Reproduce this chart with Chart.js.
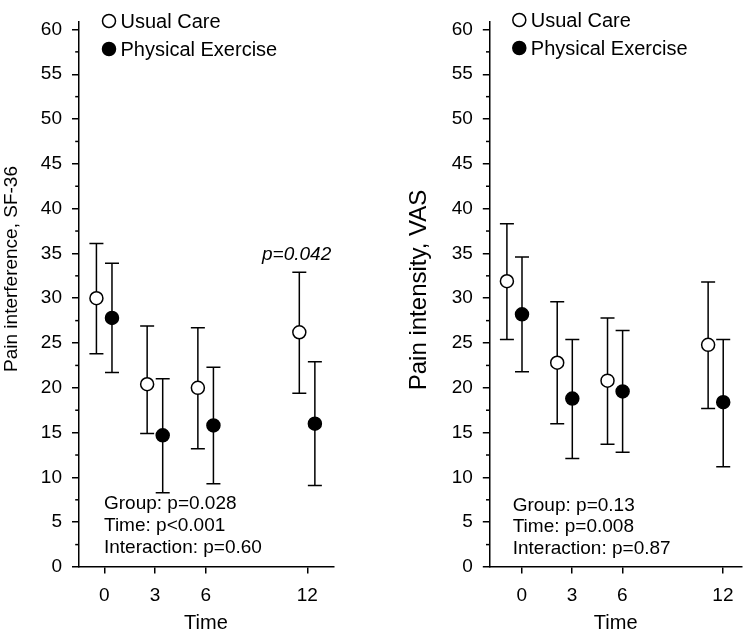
<!DOCTYPE html>
<html lang="en">
<head>
    <meta charset="UTF-8">
    <title>Pain interference and pain intensity over time</title>
    <script src="https://cdn.jsdelivr.net/npm/chart.js"></script>
    <style>
        body {
            margin: 0;
            background-color: #ffffff;
        }

        .wrap {
            display: flex;
            width: 750px;
            height: 633px;
        }

        canvas {
            display: block;
        }
    </style>
</head>
<body>

    <div class="wrap">
        <canvas id="interferenceChart" width="375" height="633"></canvas>
        <canvas id="intensityChart" width="375" height="633"></canvas>
    </div>

    <script>
        // Months of follow-up
        const times = [0, 3, 6, 12];
        const groupNames = ['Usual Care', 'Physical Exercise'];
        const yTickValues = [0, 5, 10, 15, 20, 25, 30, 35, 40, 45, 50, 55, 60];

        // Pain interference, SF-36 (mean and error bar ends)
        const sfUsualMean = [30.0, 20.4, 20.0, 26.2];
        const sfUsualUpper = [36.1, 26.9, 26.7, 32.9];
        const sfUsualLower = [23.8, 14.9, 13.2, 19.4];
        const sfExerciseMean = [27.8, 14.7, 15.8, 16.0];
        const sfExerciseUpper = [33.9, 21.0, 22.3, 22.9];
        const sfExerciseLower = [21.7, 8.3, 9.3, 9.1];
        const sfStats = ['Group: p=0.028', 'Time: p<0.001', 'Interaction: p=0.60'];

        // Pain intensity, VAS
        const vasUsualMean = [31.9, 22.8, 20.8, 24.8];
        const vasUsualUpper = [38.3, 29.6, 27.8, 31.8];
        const vasUsualLower = [25.4, 16.0, 13.7, 17.7];
        const vasExerciseMean = [28.2, 18.8, 19.6, 18.4];
        const vasExerciseUpper = [34.6, 25.4, 26.4, 25.4];
        const vasExerciseLower = [21.8, 12.1, 12.8, 11.2];
        const vasStats = ['Group: p=0.13', 'Time: p=0.008', 'Interaction: p=0.87'];

        const FONT = 'Arial, "Liberation Sans", sans-serif';
        Chart.defaults.font.family = FONT;
        Chart.defaults.color = '#000';

        // whiskers are drawn before the markers so open circles hide the line
        const errorBars = {
            id: 'errorBars',
            beforeDatasetsDraw(chart) {
                const { ctx, scales: { x, y } } = chart;
                ctx.save();
                ctx.strokeStyle = '#000';
                ctx.lineWidth = 1.5;
                chart.data.datasets.forEach(ds => {
                    ds.data.forEach((pt, i) => {
                        const px = x.getPixelForValue(pt.x);
                        const top = y.getPixelForValue(ds.upper[i]);
                        const bot = y.getPixelForValue(ds.lower[i]);
                        ctx.beginPath();
                        ctx.moveTo(px, top); ctx.lineTo(px, bot);
                        ctx.moveTo(px - 7, top); ctx.lineTo(px + 7, top);
                        ctx.moveTo(px - 7, bot); ctx.lineTo(px + 7, bot);
                        ctx.stroke();
                    });
                });
                ctx.restore();
            }
        };

        // minor y ticks, legend, statistics, y title and p-value note
        const panelText = {
            id: 'panelText',
            afterDraw(chart, args, o) {
                const { ctx, chartArea, scales: { x, y } } = chart;
                ctx.save();

                ctx.strokeStyle = '#000';
                ctx.lineWidth = 1.5;
                for (let v = 2.5; v < 60; v += 5) {
                    const py = y.getPixelForValue(v);
                    ctx.beginPath();
                    ctx.moveTo(chartArea.left - 3.3, py);
                    ctx.lineTo(chartArea.left, py);
                    ctx.stroke();
                }

                ctx.fillStyle = '#000';
                ctx.textBaseline = 'middle';
                ctx.textAlign = 'left';
                ctx.font = '20px ' + FONT;

                chart.data.datasets.forEach((ds, i) => {
                    const cx = chartArea.left + o.legendX;
                    const cy = o.legendY[i];
                    ctx.beginPath();
                    ctx.arc(cx, cy, 6.5, 0, Math.PI * 2);
                    ctx.fillStyle = ds.backgroundColor;
                    ctx.fill();
                    ctx.stroke();
                    ctx.fillStyle = '#000';
                    ctx.fillText(ds.label, cx + 11.5, cy + 1);
                });

                ctx.font = '19px ' + FONT;
                o.stats.forEach((s, i) => {
                    ctx.fillText(s, chartArea.left + o.statsX, o.statsY[i]);
                });

                if (o.note) {
                    ctx.font = 'italic 19px ' + FONT;
                    ctx.textAlign = 'center';
                    ctx.fillText(o.note.text, x.getPixelForValue(o.note.x), y.getPixelForValue(o.note.y));
                }

                ctx.translate(o.titleX, o.titleY);
                ctx.rotate(-Math.PI / 2);
                ctx.textAlign = 'center';
                ctx.font = o.titleSize + 'px ' + FONT;
                ctx.fillText(o.title, 0, 0);

                ctx.restore();
            }
        };

        function makeDataset(label, mean, upper, lower, offset, fill) {
            return {
                label: label,
                data: times.map((t, i) => ({ x: t + offset, y: mean[i] })),
                upper: upper,
                lower: lower,
                backgroundColor: fill,
                borderColor: '#000',
                borderWidth: 1.5,
                pointRadius: 6.5,
                pointHoverRadius: 6.5,
                showLine: false
            };
        }

        function makePanel(id, p) {
            const ctx = document.getElementById(id).getContext('2d');
            return new Chart(ctx, {
                type: 'scatter',
                data: {
                    datasets: [
                        makeDataset(groupNames[0], p.usual[0], p.usual[1], p.usual[2], p.offsets[0], '#ffffff'),
                        makeDataset(groupNames[1], p.exercise[0], p.exercise[1], p.exercise[2], p.offsets[1], '#000000')
                    ]
                },
                options: {
                    responsive: false,
                    animation: false,
                    devicePixelRatio: 1,
                    layout: { padding: p.padding },
                    plugins: {
                        legend: { display: false },
                        tooltip: { enabled: false },
                        panelText: p.text
                    },
                    scales: {
                        x: {
                            type: 'linear',
                            min: p.xMin,
                            max: p.xMax,
                            afterBuildTicks: s => { s.ticks = times.map(v => ({ value: v })); },
                            afterFit: s => { s.height = 66; },
                            ticks: { font: { size: 19 }, padding: 11, maxRotation: 0 },
                            grid: { drawOnChartArea: false, tickLength: 6.5, color: '#000', lineWidth: 1.5 },
                            border: { color: '#000', width: 1.5 },
                            title: {
                                display: true,
                                text: 'Time',
                                font: { size: 20, lineHeight: 1 },
                                padding: { top: 0, bottom: 0 }
                            }
                        },
                        y: {
                            min: 0,
                            max: 60.9,
                            afterBuildTicks: s => { s.ticks = yTickValues.map(v => ({ value: v })); },
                            afterFit: s => { s.width = p.yWidth; },
                            ticks: { font: { size: 19 }, padding: 10 },
                            grid: { drawOnChartArea: false, tickLength: 6.5, color: '#000', lineWidth: 1.5 },
                            border: { color: '#000', width: 1.5 }
                        }
                    }
                },
                plugins: [errorBars, panelText]
            });
        }

        makePanel('interferenceChart', {
            usual: [sfUsualMean, sfUsualUpper, sfUsualLower],
            exercise: [sfExerciseMean, sfExerciseUpper, sfExerciseLower],
            offsets: [-0.47, 0.45],
            xMin: -1.53,
            xMax: 13.54,
            yWidth: 78.5,
            padding: { left: 0, top: 2, right: 41.7, bottom: 0 },
            text: {
                legendX: 30.5,
                legendY: [21, 49],
                stats: sfStats,
                statsX: 25.5,
                statsY: [504, 526, 548],
                note: { text: 'p=0.042', x: 11.37, y: 34.9 },
                title: 'Pain interference, SF-36',
                titleSize: 19,
                titleX: 12,
                titleY: 269
            }
        });

        makePanel('intensityChart', {
            usual: [vasUsualMean, vasUsualUpper, vasUsualLower],
            exercise: [vasExerciseMean, vasExerciseUpper, vasExerciseLower],
            offsets: [-0.88, 0.02],
            xMin: -1.93,
            xMax: 13.14,
            yWidth: 114.3,
            padding: { left: 0, top: 2, right: 0, bottom: 0 },
            text: {
                legendX: 30,
                legendY: [20, 48],
                stats: vasStats,
                statsX: 23.4,
                statsY: [505.7, 527, 548.5],
                note: null,
                title: 'Pain intensity, VAS',
                titleSize: 24,
                titleX: 44.5,
                titleY: 290
            }
        });
    </script>

</body>
</html>
